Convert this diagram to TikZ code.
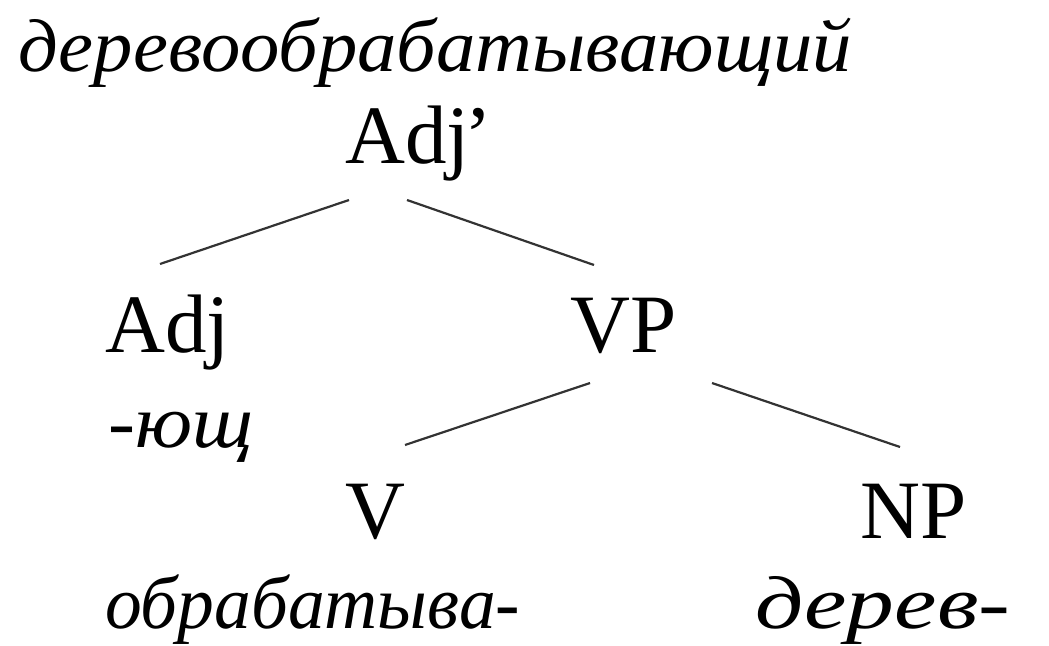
\documentclass[tikz,border=0pt]{standalone}
\usepackage{fontspec}
\setmainfont{Liberation Serif}
\begin{document}
\begin{tikzpicture}[x=1pt,y=-1pt,
  lab/.style={anchor=base west,inner sep=0pt,font=\fontsize{83}{90}\selectfont},
  ital/.style={anchor=base west,inner sep=0pt,font=\fontsize{75}{80}\selectfont\itshape},
  edge/.style={draw=black!80,line width=2.2pt}]
\useasboundingbox (0,0) rectangle (1049,645);
\node[ital] (word) at (18,71) {\resizebox{834pt}{\height}{деревообрабатывающий}};
\node[lab] (adjp) at (345,163) {Adj\kern-5pt’};
\node[lab] (adj) at (105,352) {Adj};
\node[lab] (vp) at (570,352) {VP};
\node[ital] (yushch) at (108,447) {\resizebox{145pt}{\height}{-ющ}};
\node[lab] (v) at (345,538) {V};
\node[lab] (np) at (860,538) {NP};
\node[ital] (obr) at (105,628) {\resizebox{415pt}{\height}{обрабатыва-}};
\node[ital] (der) at (755,628) {\resizebox{255pt}{\height}{дерев-}};
\coordinate (adjpL) at (349,200);
\coordinate (adjpR) at (407,200);
\coordinate (adjT) at (160,264);
\coordinate (vpT) at (594,265);
\coordinate (vpL) at (590,383);
\coordinate (vpR) at (712,383);
\coordinate (vT) at (405,445);
\coordinate (npT) at (900,447);
\draw[edge] (adjpL) -- (adjT);
\draw[edge] (adjpR) -- (vpT);
\draw[edge] (vpL) -- (vT);
\draw[edge] (vpR) -- (npT);
\end{tikzpicture}
\end{document}
